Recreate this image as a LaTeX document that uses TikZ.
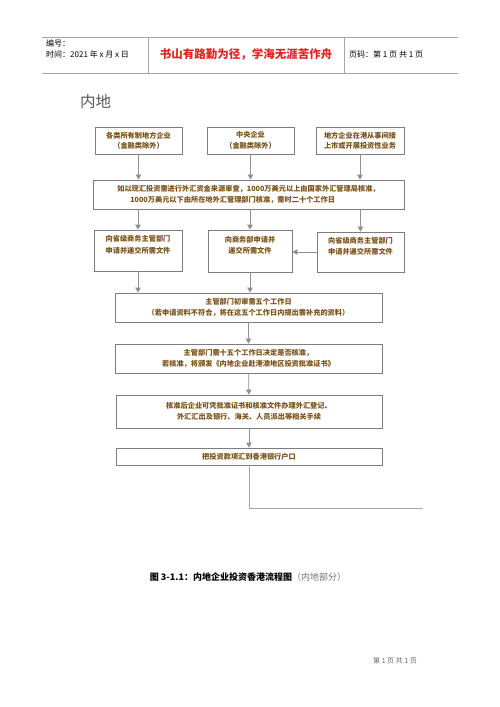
\documentclass[tikz,border=0pt]{standalone}
\usepackage{fontspec}
\usepackage{xcolor}
\usepackage{tikz}
\usetikzlibrary{arrows.meta}
\newfontfamily\cjk{Noto Sans CJK SC}
\definecolor{boxtext}{RGB}{122,80,22}
\definecolor{boxline}{RGB}{125,125,125}
\definecolor{headred}{RGB}{225,35,35}
\newcommand{\toptext}[1]{\parbox[c][30bp][t]{84bp}{\centering #1}}

\begin{document}
\begin{tikzpicture}[x=1bp,y=-1bp,
    box/.style={draw=boxline,line width=0.8bp,inner sep=0pt,align=center,text=boxtext,
      font=\cjk\bfseries\fontsize{7.2bp}{11.5bp}\selectfont},
    flow/.style={draw=boxline!85,line width=0.8bp,-{Triangle[width=5.5bp,length=5bp]}},
    rule/.style={draw=gray!70,line width=0.6bp},
    head/.style={inner sep=0pt,font=\cjk\fontsize{8bp}{9bp}\selectfont}]
    \useasboundingbox[fill=white] (0,0) rectangle (500,707);
    % page header
    \draw[rule] (42,37) -- (458,37);
    \draw[rule] (42,73) -- (458,73);
    \draw[rule] (148,37) -- (148,73);
    \draw[rule] (344,37) -- (344,73);
    \node[head,anchor=west] (number) at (46,43) {编号：};
    \node[head,anchor=west] (date) at (46,54) {时间：2021 年 x 月 x 日};
    \node[head,text=headred,font=\cjk\bfseries\fontsize{11.5bp}{12bp}\selectfont] (motto) at (246,54) {书山有路勤为径，学海无涯苦作舟};
    \node[head,anchor=west] (pageno) at (349,54) {页码：第 1 页 共 1 页};
    \node[head,anchor=west,text=black!65,font=\cjk\fontsize{15.5bp}{16bp}\selectfont] (title) at (80,102) {内地};
    % enterprises
    \node[box,minimum width=87bp,minimum height=27bp,font=\cjk\bfseries\fontsize{7.2bp}{10.5bp}\selectfont] (local) at (138.5,140.5) {各类所有制地方企业\\（金融类除外）};
    \node[box,minimum width=87bp,minimum height=27bp,font=\cjk\bfseries\fontsize{7.2bp}{10.5bp}\selectfont] (central) at (250.5,140.5) {中央企业\\（金融类除外）};
    \node[box,minimum width=88bp,minimum height=27bp,font=\cjk\bfseries\fontsize{7.2bp}{10.5bp}\selectfont] (hkbiz) at (360,140.5) {地方企业在港从事间接\\上市或开展投资性业务};
    \node[box,minimum width=311bp,minimum height=29bp,align=left] (review) at (248.5,194.5) {如以现汇投资需进行外汇资金来源审查，1000万美元以上由国家外汇管理局核准，\\\hspace*{13bp}1000万美元以下由所在地外汇管理部门核准，需时二十个工作日};
    % applications
    \node[box,minimum width=88bp,minimum height=41bp] (provA) at (138,250.5) {\toptext{向省级商务主管部门\\申请并递交所需文件}};
    \node[box,minimum width=84bp,minimum height=42bp] (mofcom) at (250,251) {\toptext{向商务部申请并\\递交所需文件}};
    \node[box,minimum width=87bp,minimum height=40bp] (provB) at (360.5,252) {\toptext{向省级商务主管部门\\申请并递交所需文件}};
    % approval steps
    \node[box,minimum width=267bp,minimum height=29bp] (prelim) at (248.5,307.5) {主管部门初审需五个工作日\\（若申请资料不符合，将在这五个工作日内提出需补充的资料）};
    \node[box,minimum width=267bp,minimum height=29bp] (decide) at (248.5,358.5) {主管部门需十五个工作日决定是否核准，\\若核准，将颁发《内地企业赴港澳地区投资批准证书》};
    \node[box,minimum width=266bp,minimum height=33bp] (register) at (249,411.5) {核准后企业可凭批准证书和核准文件办理外汇登记、\\外汇汇出及银行、海关、人员派出等相关手续};
    \node[box,minimum width=266bp,minimum height=17bp] (remit) at (249,456.5) {把投资款项汇到香港银行户口};
    \coordinate (tail) at (423,508);
    % connectors
    \draw[flow] (local) -- (local |- review.north);
    \draw[flow] (central) -- (central |- review.north);
    \draw[flow] (hkbiz) -- (hkbiz |- review.north);
    \draw[flow] (review.south -| provA) -- (provA);
    \draw[flow] (review.south -| mofcom) -- (mofcom);
    \draw[flow] (review.south -| provB) -- (provB);
    \draw[flow] (provB.west) -- (provB.west -| mofcom.east);
    \draw[flow] (provA) -- (provA |- prelim.north);
    \draw[flow] (mofcom) -- (mofcom |- prelim.north);
    \draw[flow] (prelim) -- (decide);
    \draw[flow] (decide) -- (register);
    \draw[flow] (register) -- (remit);
    \draw[draw=boxline!70,line width=0.8bp] (remit) |- (tail);
    % caption and footer
    \node[head,font=\cjk\fontsize{9bp}{10bp}\selectfont] (caption) at (248,577) {{\bfseries 图 3-1.1：内地企业投资香港流程图}\textcolor{black!55}{（内地部分）}};
    \node[head,text=black!60,font=\cjk\fontsize{7bp}{8bp}\selectfont] (footer) at (395,661) {第 1 页 共 1 页};
\end{tikzpicture}
\end{document}
